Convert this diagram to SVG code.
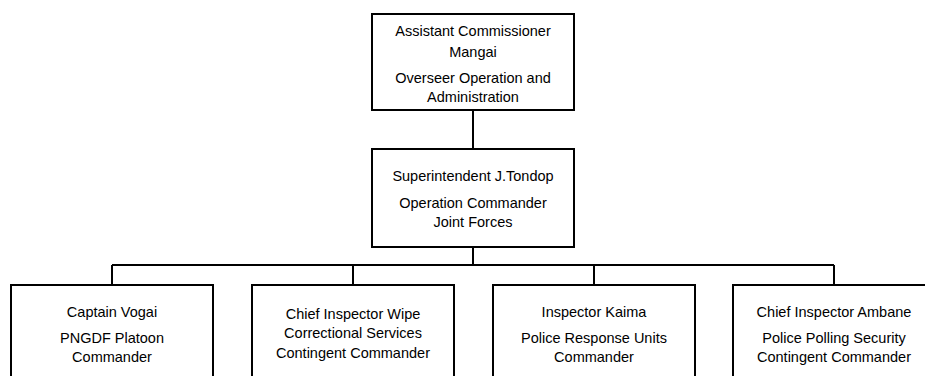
<svg xmlns="http://www.w3.org/2000/svg" width="925" height="376" viewBox="0 0 925 376">
<style>
.box{fill:#fff;stroke:#000;stroke-width:2}
.con{fill:none;stroke:#000;stroke-width:2}
text{font-family:"Liberation Sans",Arial,sans-serif;font-size:14.5px;fill:#000;text-anchor:middle}
</style>
<rect width="925" height="376" fill="#fff"/>
<g id="connectors">
<path class="con" d="M473 110V149M473 247V265M112 265H834M112 265V285M353 265V285M594 265V285M834 265V285"/>
</g>
<g id="n-mangai">
<rect class="box" x="372" y="14" width="202" height="96"/>
<text x="473" y="36">Assistant Commissioner</text>
<text x="473" y="57">Mangai</text>
<text x="473" y="83">Overseer Operation and</text>
<text x="473" y="102">Administration</text>
</g>
<g id="n-tondop">
<rect class="box" x="372" y="149" width="202" height="98"/>
<text x="473" y="181">Superintendent J.Tondop</text>
<text x="473" y="208">Operation Commander</text>
<text x="473" y="227">Joint Forces</text>
</g>
<g id="n-vogai">
<rect class="box" x="11" y="285" width="202" height="100"/>
<text x="112" y="317">Captain Vogai</text>
<text x="112" y="343">PNGDF Platoon</text>
<text x="112" y="362">Commander</text>
</g>
<g id="n-wipe">
<rect class="box" x="252" y="285" width="202" height="100"/>
<text x="353" y="319">Chief Inspector Wipe</text>
<text x="353" y="338">Correctional Services</text>
<text x="353" y="358">Contingent Commander</text>
</g>
<g id="n-kaima">
<rect class="box" x="493" y="285" width="202" height="100"/>
<text x="594" y="317">Inspector Kaima</text>
<text x="594" y="343">Police Response Units</text>
<text x="594" y="362">Commander</text>
</g>
<g id="n-ambane">
<rect class="box" x="733" y="285" width="202" height="100"/>
<text x="834" y="317">Chief Inspector Ambane</text>
<text x="834" y="343">Police Polling Security</text>
<text x="834" y="362">Contingent Commander</text>
</g>
</svg>
